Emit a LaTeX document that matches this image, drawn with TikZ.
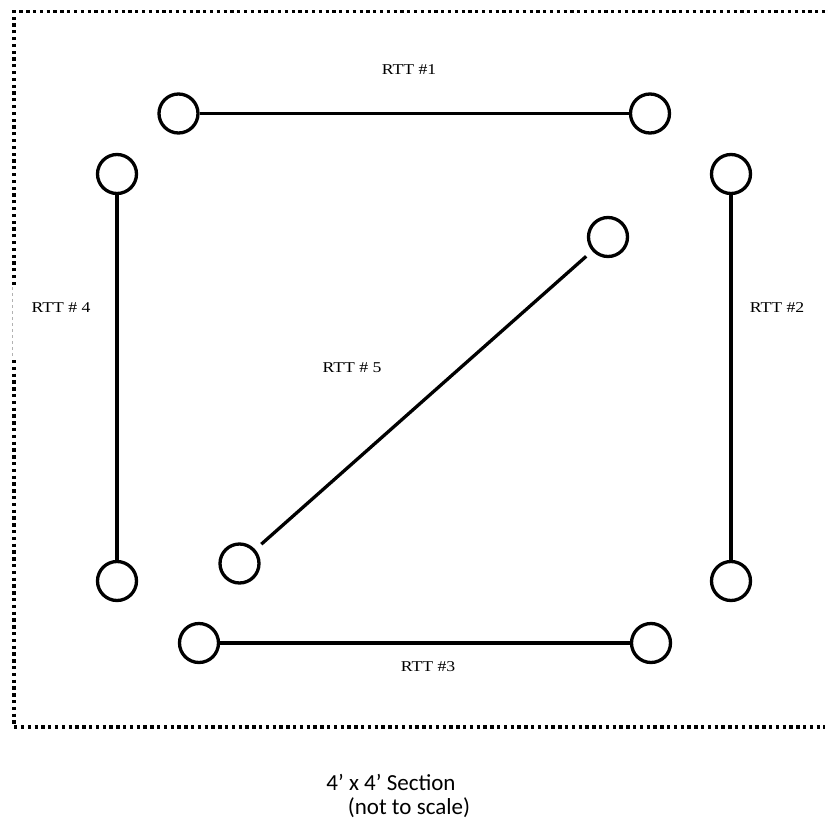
\documentclass[tikz,border=0pt]{standalone}
\usepackage{graphicx}
\usepackage{fontspec}
\setmainfont{Liberation Serif}
\newfontfamily\calib{Carlito}
\tikzset{
  rtt/.style={circle, draw, line width=3.3pt, minimum size=39pt, inner sep=0pt, fill=white},
  conn/.style={line width=3.3pt},
  lbl/.style={font=\fontsize{15}{17}\selectfont, inner sep=0pt, text=black},
  border/.style={line width=3.3pt, dash pattern=on 3.3pt off 3.5pt},
  captext/.style={font=\calib\fontsize{23}{27}\selectfont, inner sep=0pt, text=black}
}
\begin{document}
\begin{tikzpicture}[x=1pt,y=-1pt]
\useasboundingbox (0,0) rectangle (825,822);
% border
\draw[border] (14,285) -- (14,11.7) -- (825,11.7);
\draw[border] (14,360) -- (14,727) -- (825,727);
\draw[gray!60, line width=0.6pt, dash pattern=on 3pt off 3pt] (12.5,287) -- (12.5,358);
% circles
\node[rtt] (a1) at (178.5,113.5) {};
\node[rtt] (a2) at (650,113.5) {};
\node[rtt] (d1) at (117,174) {};
\node[rtt] (d2) at (117,581) {};
\node[rtt] (b1) at (731,174) {};
\node[rtt] (b2) at (731,581) {};
\node[rtt] (c1) at (199,643) {};
\node[rtt] (c2) at (651,643) {};
\node[rtt] (e1) at (608,237) {};
\node[rtt] (e2) at (239.5,563.5) {};
% connectors
\draw[conn] (a1) -- (a2);
\draw[conn] (d1) -- (d2);
\draw[conn] (b1) -- (b2);
\draw[conn] (c1) -- (c2);
\draw[conn, shorten <=8pt, shorten >=8pt] (e1) -- (e2);
% labels
\node[lbl] (l1) at (409,70) {\scalebox{1.18}[1]{RTT \#1}};
\node[lbl] (l4) at (61,308) {\scalebox{1.18}[1]{RTT \# 4}};
\node[lbl] (l2) at (777,308) {\scalebox{1.18}[1]{RTT \#2}};
\node[lbl] (l5) at (352,368) {\scalebox{1.18}[1]{RTT \# 5}};
\node[lbl] (l3) at (428,667) {\scalebox{1.18}[1]{RTT \#3}};
\node[captext] (t1) at (391,782) {4’ x 4’ Section};
\node[captext] (t2) at (409,808) {(not to scale)};
\end{tikzpicture}
\end{document}
